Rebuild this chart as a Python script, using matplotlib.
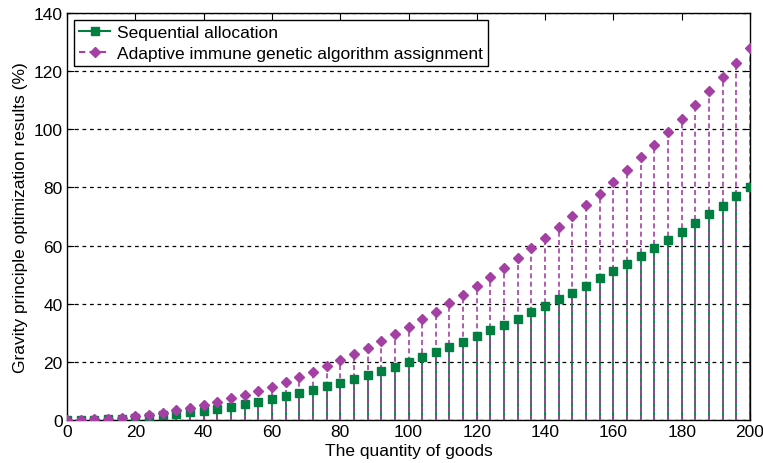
import matplotlib
matplotlib.use("Agg")
import matplotlib.pyplot as plt

# quantity of goods (x)
goods = list(range(0, 201, 4))

sequential = [0.0, 0.03, 0.1, 0.3, 0.5, 0.8, 1.2, 1.6, 2.0, 2.6,
              3.2, 3.9, 4.6, 5.4, 6.3, 7.2, 8.2, 9.2, 10.4, 11.6,
              12.8, 14.1, 15.5, 16.9, 18.4, 20.0, 21.6, 23.3, 25.1, 26.9,
              28.8, 30.8, 32.8, 34.8, 37.0, 39.2, 41.5, 43.8, 46.2, 48.7,
              51.2, 53.8, 56.4, 59.2, 62.0, 64.8, 67.7, 70.7, 73.7, 77.0,
              80.0]

adaptive = [0.0, 0.05, 0.2, 0.5, 0.8, 1.3, 1.8, 2.5, 3.3, 4.1,
            5.1, 6.2, 7.4, 8.7, 10.0, 11.5, 13.1, 14.8, 16.6, 18.5,
            20.5, 22.6, 24.8, 27.1, 29.5, 32.0, 34.6, 37.3, 40.1, 43.1,
            46.1, 49.2, 52.4, 55.8, 59.2, 62.7, 66.4, 70.1, 73.9, 77.9,
            81.9, 86.1, 90.3, 94.7, 99.1, 103.7, 108.3, 113.1, 118.0, 122.9,
            128.0]

green = "#007f40"
purple = "#a43fa4"

plt.rcParams["font.family"] = ["Liberation Sans", "DejaVu Sans"]
fs = 12.5

fig = plt.figure(figsize=(7.63, 4.64), dpi=100)
ax = fig.add_axes([67 / 763, 1 - 421 / 464, (750 - 67) / 763, (421 - 14) / 464])

# stems
ax.vlines(goods, 0, sequential, colors=green, linestyles="solid", linewidth=1.3, zorder=2)
ax.vlines(goods, 0, adaptive, colors=purple, linestyles=(0, (3, 2)), linewidth=1.2, zorder=3)

ax.plot(goods, sequential, linestyle="none", marker="s", markersize=6,
        color=green, zorder=4)
ax.plot(goods, adaptive, linestyle="none", marker="D", markersize=5.5,
        color=purple, zorder=4)

# legend proxies
ax.plot([], [], color=green, linestyle="-", marker="s", markersize=6,
        label="Sequential allocation")
ax.plot([], [], color=purple, linestyle=(0, (3, 2)), marker="D", markersize=5.5,
        label="Adaptive immune genetic algorithm assignment")

ax.set_xlim(0, 200)
ax.set_ylim(0, 140)
ax.set_xticks(range(0, 201, 20))
ax.set_yticks(range(0, 141, 20))
ax.yaxis.grid(True, color="black", linestyle=(0, (3, 3)), linewidth=0.9)
ax.set_axisbelow(True)
ax.tick_params(direction="in", top=True, right=True, labelsize=fs, length=5, pad=3)
for s in ax.spines.values():
    s.set_linewidth(1.0)

ax.set_xlabel("The quantity of goods", fontsize=fs, labelpad=3)
ax.set_ylabel("Gravity principle optimization results (%)", fontsize=fs, labelpad=4)

leg = ax.legend(loc="upper left", fontsize=fs, fancybox=False, framealpha=1,
                edgecolor="black", borderaxespad=0.4, handlelength=1.8,
                borderpad=0.3, labelspacing=0.3, handletextpad=0.4)
leg.get_frame().set_linewidth(1.0)

fig.savefig("out.png", dpi=100)
